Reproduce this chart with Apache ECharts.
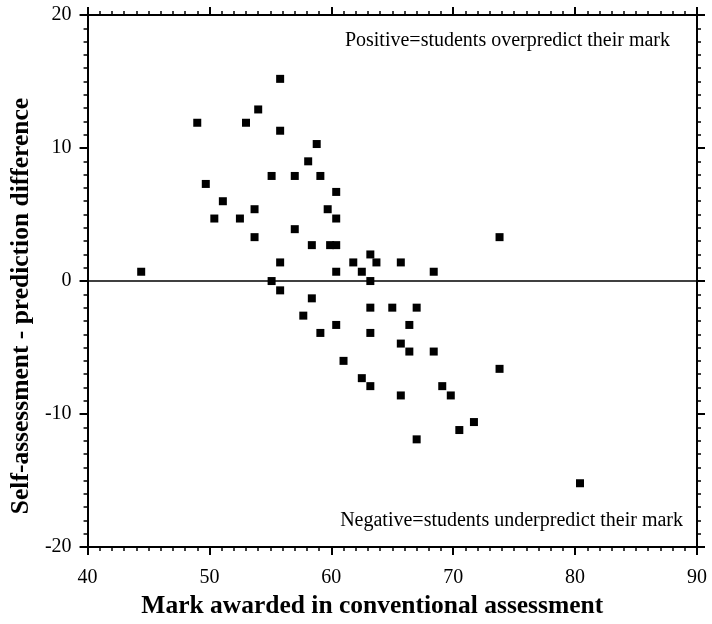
<!DOCTYPE html>
<html>
<head>
<meta charset="utf-8">
<script src="https://cdn.jsdelivr.net/npm/echarts@6/dist/echarts.min.js"></script>
<style>html,body{margin:0;padding:0;background:#fff}#c{width:712px;height:624px}</style>
</head>
<body>
<div id="c"></div>
<script>
const xValues = [44.4,49.0,49.7,50.4,51.1,52.5,53.0,53.7,53.7,54.0,55.1,55.1,55.8,55.8,55.8,55.8,57.0,57.0,58.1,58.4,58.8,59.1,59.7,59.9,60.4,60.4,60.4,60.4,61.8,62.5,63.2,63.7,63.2,65.7,68.4,73.8,58.4,57.7,59.1,60.4,61.0,62.5,63.2,63.2,63.2,65.0,67.0,66.4,65.7,66.4,68.4,73.8,69.1,69.8,65.7,70.5,71.7,67.0,80.4];
const yValues = [0.7,11.9,7.3,4.7,6.0,4.7,11.9,5.4,3.3,12.9,7.9,0.0,15.2,11.3,1.4,-0.7,7.9,3.9,9.0,2.7,10.3,7.9,5.4,2.7,2.7,6.7,4.7,0.7,1.4,0.7,2.0,1.4,0.0,1.4,0.7,3.3,-1.3,-2.6,-3.9,-3.3,-6.0,-7.3,-7.9,-2.0,-3.9,-2.0,-2.0,-3.3,-4.7,-5.3,-5.3,-6.6,-7.9,-8.6,-8.6,-11.2,-10.6,-11.9,-15.2];
const xRange = [40, 90];
const yRange = [-20, 20];
const xTitle = 'Mark awarded in conventional assessment';
const yTitle = 'Self-assessment - prediction difference';
const noteTop = 'Positive=students overpredict their mark';
const noteBottom = 'Negative=students underpredict their mark';

const points = xValues.map((x, i) => [x, yValues[i]]);
const serif = '"Liberation Serif", "DejaVu Serif", serif';
const lineStyle = {color: '#000', width: 2};
function axisBase(show) {
  return {
    axisLine: {show: true, onZero: false, lineStyle: lineStyle},
    axisTick: {show: true, length: 8, lineStyle: {color: '#000', width: 2}},
    minorTick: {show: true, splitNumber: 10, length: 4, lineStyle: {color: '#000', width: 1.5}},
    splitLine: {show: false},
    axisLabel: {show: show, color: '#000', fontFamily: serif, fontSize: 20}
  };
}
const chart = echarts.init(document.getElementById('c'), null, {renderer: 'canvas'});
chart.setOption({
  animation: false,
  backgroundColor: '#fff',
  grid: {left: 87, right: 15, top: 15, bottom: 75},
  xAxis: [
    Object.assign(axisBase(true), {type: 'value', min: xRange[0], max: xRange[1], interval: 10, position: 'bottom',
      name: xTitle, nameLocation: 'middle', nameGap: 39,
      nameTextStyle: {color: '#000', fontFamily: serif, fontSize: 25.5, fontWeight: 'bold', padding: [0, 40, 0, 0]},
      axisLabel: {show: true, color: '#000', fontFamily: serif, fontSize: 20, margin: 21}}),
    Object.assign(axisBase(false), {type: 'value', min: xRange[0], max: xRange[1], interval: 10, position: 'top'})
  ],
  yAxis: [
    Object.assign(axisBase(true), {type: 'value', min: yRange[0], max: yRange[1], interval: 10, position: 'left',
      name: yTitle, nameLocation: 'middle', nameGap: 46,
      nameTextStyle: {color: '#000', fontFamily: serif, fontSize: 25.5, fontWeight: 'bold', padding: [0, 50, 0, 0]},
      axisLabel: {show: true, color: '#000', fontFamily: serif, fontSize: 20, margin: 16}}),
    Object.assign(axisBase(false), {type: 'value', min: yRange[0], max: yRange[1], interval: 10, position: 'right'})
  ],
  graphic: [
    {type: 'text', right: 42, top: 31, style: {text: noteTop, fill: '#000', font: '20px ' + serif}},
    {type: 'text', right: 29, top: 511, style: {text: noteBottom, fill: '#000', font: '20px ' + serif}}
  ],
  series: [{
    type: 'scatter',
    xAxisIndex: 0, yAxisIndex: 0,
    data: points,
    symbol: 'rect',
    symbolSize: 8,
    itemStyle: {color: '#000', opacity: 1},
    markLine: {
      silent: true, symbol: ['none', 'none'], label: {show: false},
      lineStyle: {color: '#000', width: 1.5, type: 'solid'},
      data: [{yAxis: 0}]
    },
    z: 3
  }]
});
</script>
</body>
</html>
